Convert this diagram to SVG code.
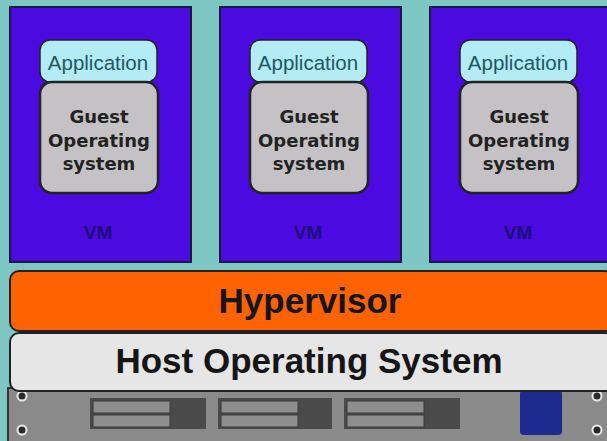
<svg xmlns="http://www.w3.org/2000/svg" width="607" height="441" viewBox="0 0 607 441">
<style>
.vm{fill:#4a0ae0;stroke:#1a1a3a;stroke-width:2}
.app{fill:#b4ecf6;stroke:#222;stroke-width:1.5}
.gos{fill:#c4c2c4;stroke:#222;stroke-width:2.5}
.appt{font-family:"Liberation Sans",Arial,sans-serif;font-size:20.5px;fill:#1d5866;text-anchor:middle}
.gost{font-family:"DejaVu Sans",sans-serif;font-weight:bold;font-size:18px;fill:#222;text-anchor:middle}
.vmt{font-family:"Liberation Sans",Arial,sans-serif;font-weight:bold;font-size:19px;fill:#1c0f7a;text-anchor:middle}
.big{font-family:"Liberation Sans",Arial,sans-serif;font-weight:bold;font-size:35px;fill:#151515;text-anchor:middle}
.slot{fill:#4a4a4a}
.bar{fill:#8e8e8e;stroke:#3a3a3a;stroke-width:1}
.screw{fill:#2a2a2a;stroke:#e8e8e8;stroke-width:2}
</style>
<rect width="607" height="441" fill="#7ec6c4"/>
<g id="vm1">
<rect class="vm" x="10" y="7" width="181" height="255"/>
<rect class="app" x="40" y="40" width="117" height="42" rx="10"/>
<text class="appt" x="98" y="70">Application</text>
<rect class="gos" x="40" y="82" width="118" height="111" rx="12"/>
<text class="gost" x="99" y="123">Guest</text>
<text class="gost" x="99" y="147">Operating</text>
<text class="gost" x="99" y="170">system</text>
<text class="vmt" x="98" y="239">VM</text>
</g>
<g id="vm2">
<rect class="vm" x="220" y="7" width="181" height="255"/>
<rect class="app" x="250" y="40" width="117" height="42" rx="10"/>
<text class="appt" x="308" y="70">Application</text>
<rect class="gos" x="250" y="82" width="118" height="111" rx="12"/>
<text class="gost" x="309" y="123">Guest</text>
<text class="gost" x="309" y="147">Operating</text>
<text class="gost" x="309" y="170">system</text>
<text class="vmt" x="308" y="239">VM</text>
</g>
<g id="vm3">
<rect class="vm" x="430" y="7" width="180" height="255"/>
<rect class="app" x="460" y="40" width="117" height="42" rx="10"/>
<text class="appt" x="518" y="70">Application</text>
<rect class="gos" x="460" y="82" width="118" height="111" rx="12"/>
<text class="gost" x="519" y="123">Guest</text>
<text class="gost" x="519" y="147">Operating</text>
<text class="gost" x="519" y="170">system</text>
<text class="vmt" x="518" y="239">VM</text>
</g>
<g id="server">
<rect x="8" y="388" width="602" height="56" fill="#8a8a8a" stroke="#333" stroke-width="2"/>
<rect class="slot" x="90" y="398" width="116" height="31"/>
<rect class="bar" x="93" y="401" width="77" height="12"/>
<rect class="bar" x="93" y="415" width="77" height="12"/>
<rect class="slot" x="218" y="398" width="114" height="31"/>
<rect class="bar" x="221" y="401" width="77" height="12"/>
<rect class="bar" x="221" y="415" width="77" height="12"/>
<rect class="slot" x="344" y="398" width="116" height="31"/>
<rect class="bar" x="347" y="401" width="77" height="12"/>
<rect class="bar" x="347" y="415" width="77" height="12"/>
<rect x="520" y="390" width="42" height="45" rx="4" fill="#1e2a8e"/>
<circle class="screw" cx="22" cy="396" r="4.5"/>
<circle class="screw" cx="22" cy="430" r="4.5"/>
<circle class="screw" cx="597" cy="396" r="4.5"/>
<circle class="screw" cx="597" cy="430" r="4.5"/>
</g>
<g id="hypervisor">
<rect x="10" y="271" width="604" height="60" rx="9" fill="#ff6200" stroke="#222" stroke-width="2"/>
<text class="big" x="310" y="313">Hypervisor</text>
</g>
<g id="hostos">
<rect x="10" y="333" width="604" height="58" rx="9" fill="#e6e6e6" stroke="#222" stroke-width="2"/>
<text class="big" x="309" y="373">Host Operating System</text>
</g>
</svg>
